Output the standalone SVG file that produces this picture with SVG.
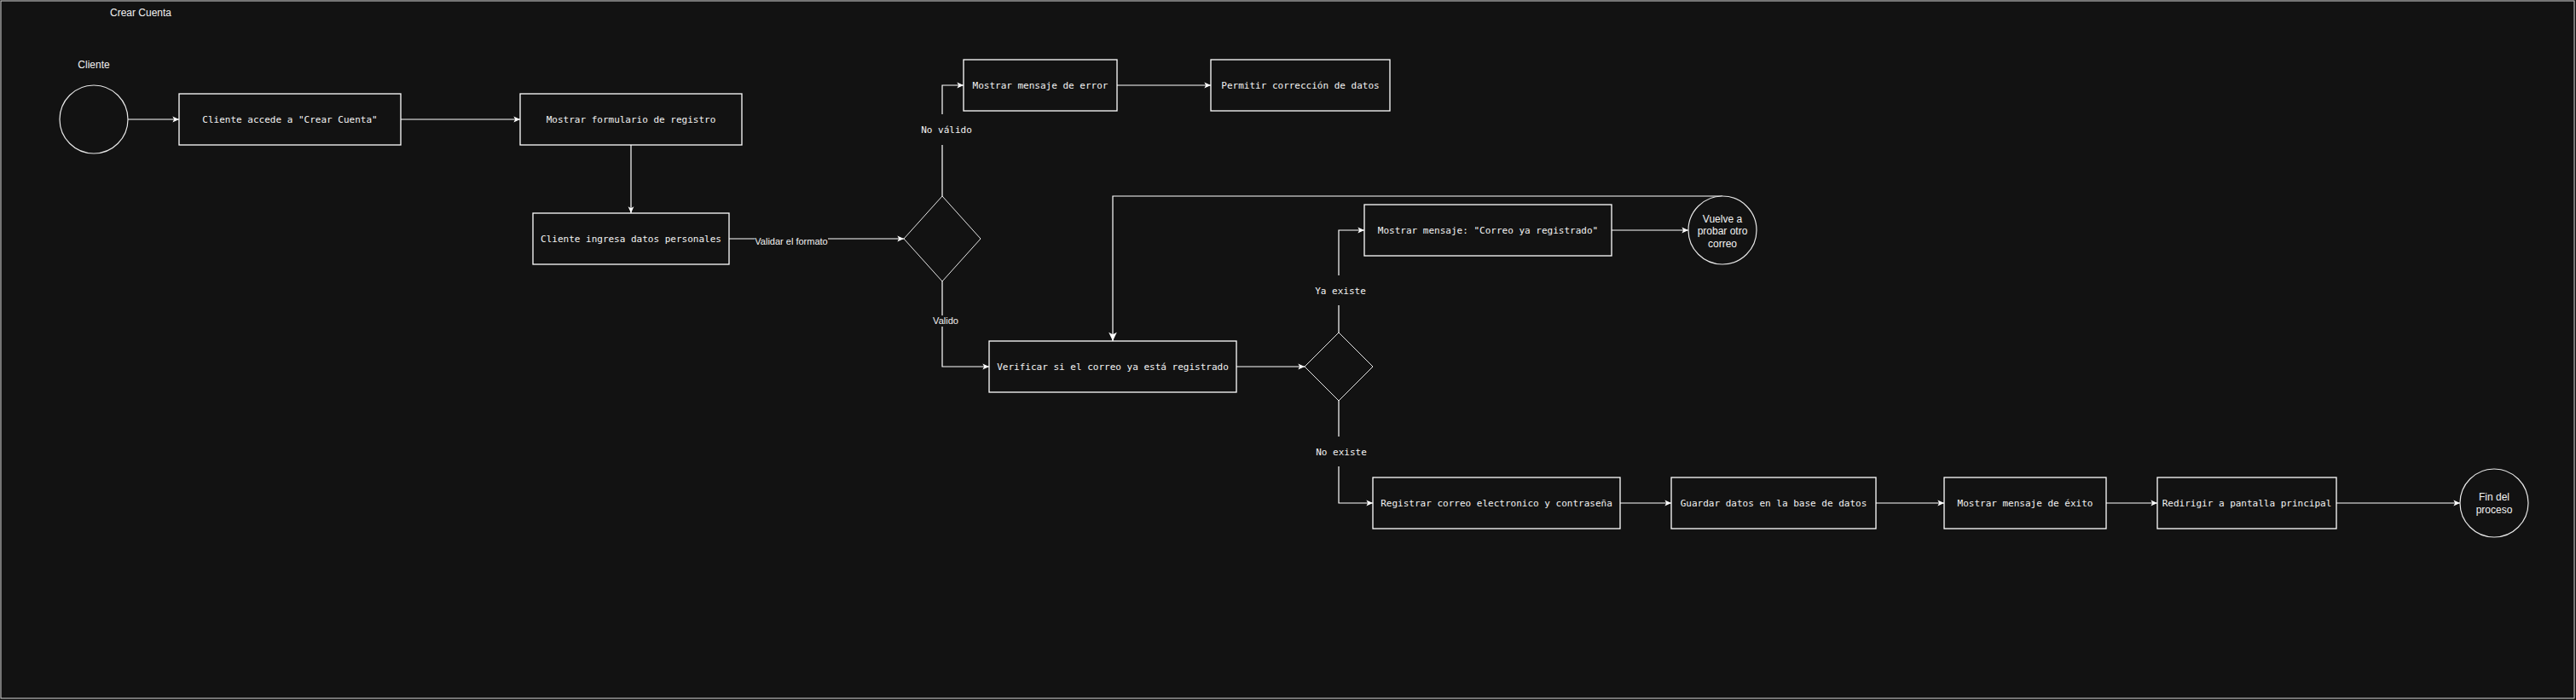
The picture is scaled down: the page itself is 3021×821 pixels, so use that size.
<svg xmlns="http://www.w3.org/2000/svg" width="3021" height="821" viewBox="0 0 3021 821">
<style>
.bg{fill:#121212}
.frame{fill:none;stroke:#d8d8d8;stroke-width:1}
.box{fill:#121212;stroke:#ffffff;stroke-width:1.3}
.dia{fill:#121212;stroke:#e6e6e6;stroke-width:1}
.circ{fill:#121212;stroke:#e6e6e6;stroke-width:1.2}
.mono{font-family:"DejaVu Sans Mono","Liberation Mono",monospace;font-size:11px;fill:#f2f2f2;text-anchor:middle;dominant-baseline:central}
.sans{font-family:"Liberation Sans",Arial,sans-serif;font-size:12px;fill:#f2f2f2;text-anchor:middle;dominant-baseline:central}
.lbl{font-family:"Liberation Sans",Arial,sans-serif;font-size:11px;fill:#f2f2f2;text-anchor:middle;dominant-baseline:central}
.edge{fill:none;stroke:#ffffff;stroke-width:1.2}
</style>
<defs>
<marker id="arr" viewBox="0 0 10 10" refX="9.5" refY="5" markerWidth="9" markerHeight="9" markerUnits="userSpaceOnUse" orient="auto">
<path d="M1,1.2 L9.5,5 L1,8.8 L3,5 Z" fill="#ffffff"/>
</marker>
<marker id="arrL" viewBox="0 0 10 10" refX="9.5" refY="5" markerWidth="12" markerHeight="12" markerUnits="userSpaceOnUse" orient="auto">
<path d="M1,1 L9.5,5 L1,9 L3,5 Z" fill="#ffffff"/>
</marker>
</defs>
<rect class="bg" x="0" y="0" width="3021" height="821"/>
<rect class="frame" x="1" y="1" width="3018" height="818"/>
<text class="sans" x="165" y="15">Crear Cuenta</text>
<text class="sans" x="110" y="76">Cliente</text>

<g id="connectors">
<path class="edge" d="M150 140 H210" marker-end="url(#arr)"/>
<path class="edge" d="M470 140 H610" marker-end="url(#arr)"/>
<path class="edge" d="M740 170 V250" marker-end="url(#arr)"/>
<path class="edge" d="M855 280 H885 M971 280 H1060" marker-end="url(#arr)"/>
<text class="lbl" x="928" y="283">Validar el formato</text>
<path class="edge" d="M1105 230 V170 M1105 134 V100 H1130" marker-end="url(#arr)"/>
<text class="mono" x="1110" y="152">No válido</text>
<path class="edge" d="M1105 330 V370 M1105 383 V430 H1160" marker-end="url(#arr)"/>
<text class="lbl" x="1109" y="376">Valido</text>
<path class="edge" d="M1310 100 H1420" marker-end="url(#arr)"/>
<path class="edge" d="M1450 430 H1530" marker-end="url(#arr)"/>
<path class="edge" d="M1570 390 V358 M1570 323 V270 H1600" marker-end="url(#arr)"/>
<text class="mono" x="1572" y="341">Ya existe</text>
<path class="edge" d="M1890 270 H1980" marker-end="url(#arr)"/>
<path class="edge" d="M2020 230 H1305 V400" marker-end="url(#arrL)"/>
<path class="edge" d="M1570 470 V512 M1570 547 V590 H1610" marker-end="url(#arr)"/>
<text class="mono" x="1573" y="530">No existe</text>
<path class="edge" d="M1900 590 H1960" marker-end="url(#arr)"/>
<path class="edge" d="M2200 590 H2280" marker-end="url(#arr)"/>
<path class="edge" d="M2470 590 H2530" marker-end="url(#arr)"/>
<path class="edge" d="M2740 590 H2885" marker-end="url(#arr)"/>
</g>

<g id="start"><circle class="circ" cx="110" cy="140" r="40"/></g>
<g id="n1"><rect class="box" x="210" y="110" width="260" height="60"/><text class="mono" x="340" y="140">Cliente accede a "Crear Cuenta"</text></g>
<g id="n2"><rect class="box" x="610" y="110" width="260" height="60"/><text class="mono" x="740" y="140">Mostrar formulario de registro</text></g>
<g id="n3"><rect class="box" x="625" y="250" width="230" height="60"/><text class="mono" x="740" y="280">Cliente ingresa datos personales</text></g>
<g id="d1"><polygon class="dia" points="1105,230 1150,280 1105,330 1060,280"/></g>
<g id="n4"><rect class="box" x="1130" y="70" width="180" height="60"/><text class="mono" x="1220" y="100">Mostrar mensaje de error</text></g>
<g id="n5"><rect class="box" x="1420" y="70" width="210" height="60"/><text class="mono" x="1525" y="100">Permitir corrección de datos</text></g>
<g id="n6"><rect class="box" x="1160" y="400" width="290" height="60"/><text class="mono" x="1305" y="430">Verificar si el correo ya está registrado</text></g>
<g id="d2"><polygon class="dia" points="1570,390 1610,430 1570,470 1530,430"/></g>
<g id="n7"><rect class="box" x="1600" y="240" width="290" height="60"/><text class="mono" x="1745" y="270">Mostrar mensaje: "Correo ya registrado"</text></g>
<g id="retry"><circle class="circ" cx="2020" cy="270" r="40"/><text class="sans" x="2020" y="256.5">Vuelve a</text><text class="sans" x="2020" y="271">probar otro</text><text class="sans" x="2020" y="285.5">correo</text></g>
<g id="n8"><rect class="box" x="1610" y="560" width="290" height="60"/><text class="mono" x="1755" y="590">Registrar correo electronico y contraseña</text></g>
<g id="n9"><rect class="box" x="1960" y="560" width="240" height="60"/><text class="mono" x="2080" y="590">Guardar datos en la base de datos</text></g>
<g id="n10"><rect class="box" x="2280" y="560" width="190" height="60"/><text class="mono" x="2375" y="590">Mostrar mensaje de éxito</text></g>
<g id="n11"><rect class="box" x="2530" y="560" width="210" height="60"/><text class="mono" x="2635" y="590">Redirigir a pantalla principal</text></g>
<g id="end"><circle class="circ" cx="2925" cy="590" r="40"/><text class="sans" x="2925" y="583">Fin del</text><text class="sans" x="2925" y="598">proceso</text></g>
</svg>
